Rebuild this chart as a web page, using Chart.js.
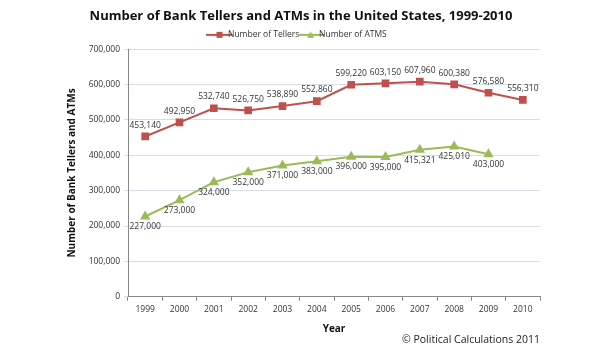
<!DOCTYPE html>
<html><head><meta charset="utf-8">
<script src="https://cdn.jsdelivr.net/npm/chart.js@4"></script>
<style>html,body{margin:0;padding:0;background:#fff}canvas{display:block}</style>
</head><body>
<canvas id="c" width="615" height="350"></canvas>
<script>
const years = ['1999','2000','2001','2002','2003','2004','2005','2006','2007','2008','2009','2010'];
const tellers = [453140,492950,532740,526750,538890,552860,599220,603150,607960,600380,576580,556310];
const atms = [227000,273000,324000,352000,371000,383000,396000,395000,415321,425010,403000,null];
const yTicks = [0,100000,200000,300000,400000,500000,600000,700000];

const RED = '#C0504D', GREEN = '#9BBB59';
const FONT = "'Open Sans', 'Liberation Sans', sans-serif";
const fmt = v => v.toLocaleString('en-US');

function legendIcon(color, shape){
  const c = document.createElement('canvas'); c.width = 26; c.height = 8;
  const x = c.getContext('2d');
  x.strokeStyle = color; x.lineWidth = 2;
  x.beginPath(); x.moveTo(0,4); x.lineTo(26,4); x.stroke();
  x.fillStyle = color;
  if (shape === 'rect'){ x.fillRect(10,1,6,6); }
  else { x.beginPath(); x.moveTo(13,0.5); x.lineTo(16.5,7); x.lineTo(9.5,7); x.closePath(); x.fill(); }
  return c;
}

const labelPlugin = {
  id: 'lbls',
  afterDatasetsDraw(chart){
    const ctx = chart.ctx;
    ctx.save();
    ctx.font = "8.5px " + FONT;
    ctx.fillStyle = '#333';
    ctx.textAlign = 'center';
    chart.data.datasets.forEach((ds, di) => {
      const meta = chart.getDatasetMeta(di);
      meta.data.forEach((pt, i) => {
        const v = ds.data[i];
        if (v == null) return;
        if (di === 0){ ctx.textBaseline = 'bottom'; ctx.fillText(fmt(v), pt.x, pt.y - 7); }
        else { ctx.textBaseline = 'top'; ctx.fillText(fmt(v), pt.x, pt.y + 6); }
      });
    });
    ctx.font = "10.5px " + FONT;
    ctx.fillStyle = '#222';
    ctx.textAlign = 'right'; ctx.textBaseline = 'middle';
    ctx.fillText('\u00A9 Political Calculations 2011', 540, 340);
    ctx.restore();
  }
};

new Chart(document.getElementById('c'), {
  type: 'line',
  data: {
    labels: years,
    datasets: [
      { label: 'Number of Tellers', data: tellers, borderColor: RED, backgroundColor: RED,
        borderWidth: 2, pointStyle: 'rect', pointRadius: 4, pointHoverRadius: 4, tension: 0 },
      { label: 'Number of ATMS', data: atms, borderColor: GREEN, backgroundColor: GREEN,
        borderWidth: 2, pointStyle: 'triangle', pointRadius: 4, pointHoverRadius: 4, tension: 0 }
    ]
  },
  options: {
    responsive: false, animation: false,
    layout: { padding: { left: 62, right: 75, top: 4, bottom: 11 } },
    plugins: {
      tooltip: { enabled: false },
      title: { display: true, text: 'Number of Bank Tellers and ATMs in the United States, 1999-2010',
        font: { family: FONT, size: 13, weight: 'bold' }, color: '#111', padding: { top: 4, bottom: 0 } },
      legend: { display: true, position: 'top',
        labels: { usePointStyle: true, font: { family: FONT, size: 8.5 }, color: '#333', boxHeight: 8, padding: 7,
          generateLabels(chart){
            return chart.data.datasets.map((d, i) => ({
              text: d.label, pointStyle: legendIcon(d.borderColor, i === 0 ? 'rect' : 'tri'),
              fillStyle: d.borderColor, strokeStyle: d.borderColor, lineWidth: 0, hidden: false, datasetIndex: i, fontColor: '#333'
            }));
          } } }
    },
    scales: {
      x: {
        offset: true,
        grid: { display: true, drawOnChartArea: false, drawTicks: true, tickLength: 4, color: '#888', offset: true },
        border: { color: '#888' },
        ticks: { font: { family: FONT, size: 8.5 }, color: '#333', padding: 4 },
        title: { display: true, text: 'Year', font: { family: FONT, size: 10, weight: 'bold' }, color: '#111', padding: { top: 4 } }
      },
      y: {
        min: 0, max: 700000,
        afterFit(s){ s.width = 66; },
        afterBuildTicks(s){ s.ticks = yTicks.map(v => ({ value: v })); },
        grid: { color: '#D6DEEA', drawTicks: true, tickLength: 4 },
        border: { color: '#888' },
        ticks: { font: { family: FONT, size: 8.5 }, color: '#333', padding: 4, callback: v => fmt(v) },
        title: { display: true, text: 'Number of Bank Tellers and ATMs', font: { family: FONT, size: 10, weight: 'bold' }, color: '#111', padding: { bottom: 4 } }
      }
    }
  },
  plugins: [labelPlugin]
});
</script>
</body></html>
